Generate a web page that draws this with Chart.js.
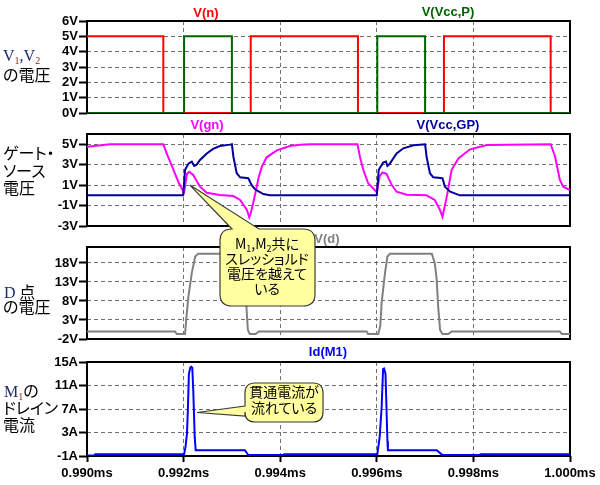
<!DOCTYPE html>
<html>
<head>
<meta charset="utf-8">
<script src="https://cdn.jsdelivr.net/npm/chart.js@4.4.1/dist/chart.umd.min.js"></script>
<style>
body { margin: 0; background: #fff; }
#wrap { position: relative; width: 600px; height: 485px; overflow: hidden; }
#wrap canvas { position: absolute; left: 0; top: 0; }
#notes { position: absolute; left: 0; top: 0; }
.t { position: absolute; font: bold 13px "Liberation Sans", Arial, sans-serif; line-height: 14px; white-space: nowrap; transform: translateX(-50%); }
.j { position: absolute; font-family: "Noto Sans CJK JP", sans-serif; font-size: 16px; line-height: 18px; white-space: nowrap; font-feature-settings: "palt"; color: #000; }
.s { font-family: "Liberation Serif", serif; color: #1c2c6c; }
.s sub { color: #8a2a1a; font-size: 10px; vertical-align: -3px; line-height: 0; }
.n { position: absolute; font-family: "Noto Sans CJK JP", sans-serif; font-size: 14px; line-height: 15px; white-space: nowrap; font-feature-settings: "palt"; transform: translateX(-50%); color: #000; }
.n sub { font-size: 9px; vertical-align: -3px; line-height: 0; }
</style>
</head>
<body>
<div id="wrap">
  <canvas id="p1" width="600" height="485"></canvas>
  <canvas id="p2" width="600" height="485"></canvas>
  <canvas id="p3" width="600" height="485"></canvas>
  <canvas id="p4" width="600" height="485"></canvas>
  <svg id="notes" width="600" height="485"></svg>

  <div class="t" style="left:206px;top:6px;color:#ff0000">V(n)</div>
  <div class="t" style="left:448px;top:5px;color:#006400">V(Vcc,P)</div>
  <div class="t" style="left:207px;top:118px;color:#ff00ff">V(gn)</div>
  <div class="t" style="left:448px;top:118px;color:#00009c">V(Vcc,GP)</div>
  <div class="t" style="left:327px;top:232px;color:#808080">V(d)</div>
  <div class="t" style="left:328px;top:345px;color:#0000ff">Id(M1)</div>

  <div class="j" style="left:3px;top:45px"><span class="s">V<sub>1</sub>,V<sub>2</sub></span></div>
  <div class="j" style="left:3px;top:65px">の電圧</div>
  <div class="j" style="left:3px;top:143px">ゲート・</div>
  <div class="j" style="left:3px;top:161px">ソース</div>
  <div class="j" style="left:3px;top:178px">電圧</div>
  <div class="j" style="left:4px;top:282px"><span class="s">D</span> 点</div>
  <div class="j" style="left:3px;top:297px">の電圧</div>
  <div class="j" style="left:4px;top:381px"><span class="s">M<sub>1</sub></span>の</div>
  <div class="j" style="left:3px;top:398px">ドレイン</div>
  <div class="j" style="left:3px;top:415px">電流</div>

  <div class="n" style="left:267px;top:236px">M<sub>1</sub>,M<sub>2</sub>共に</div>
  <div class="n" style="left:267px;top:251px">スレッショルド</div>
  <div class="n" style="left:267px;top:266px">電圧を越えて</div>
  <div class="n" style="left:267px;top:281px">いる</div>
  <div class="n" style="left:284px;top:384px">貫通電流が</div>
  <div class="n" style="left:284px;top:400px">流れている</div>
</div>

<script>
// time axis (ms)
const xTicks = [0.990, 0.992, 0.994, 0.996, 0.998, 1.000];

// panel 1: V(n), V(Vcc,P)
const nTime = [0.99000, 0.99158, 0.99158, 0.99339, 0.99339, 0.99561, 0.99561, 0.99739, 0.99739, 0.99960, 0.99960, 1.00000];
const nVolt = [5, 5, 0, 0, 5, 5, 0, 0, 5, 5, 0, 0];
const pTime = [0.99000, 0.99201, 0.99201, 0.99300, 0.99300, 0.99601, 0.99601, 0.99700, 0.99700, 1.00000];
const pVolt = [0, 0, 5, 5, 0, 0, 5, 5, 0, 0];
const y1Ticks = [0, 1, 2, 3, 4, 5, 6];

// panel 2: V(gn), V(Vcc,GP)
const gnTime = [0.99000, 0.99048, 0.99158, 0.99165, 0.99179, 0.99189, 0.99198, 0.99201, 0.99207, 0.99212,
  0.99220, 0.99234, 0.99248, 0.99275, 0.99303, 0.99317, 0.99331, 0.99336, 0.99339, 0.99344,
  0.99350, 0.99355, 0.99362, 0.99372, 0.99393, 0.99420, 0.99441, 0.99462, 0.99560, 0.99565,
  0.99572, 0.99582, 0.99596, 0.99600, 0.99606, 0.99612, 0.99620, 0.99631, 0.99641, 0.99662,
  0.99703, 0.99720, 0.99731, 0.99736, 0.99740, 0.99745, 0.99755, 0.99769, 0.99793, 0.99828,
  0.99960, 0.99969, 0.99979, 0.99986, 1.00000];
const gnVolt = [4.76, 5.0, 5.0, 4.1, 2.5, 1.33, 0.5, 0.3, 2.1, 2.3,
  2.0, 0.85, 0.25, 0.03, -0.07, -0.45, -1.44, -2.15, -1.76, -0.78,
  0.52, 1.67, 2.8, 3.72, 4.4, 4.83, 4.95, 5.0, 5.0, 3.8,
  2.5, 1.2, 0.5, 0.3, 1.9, 2.25, 2.1, 1.0, 0.35, 0.06,
  0.0, -0.45, -1.44, -2.1, -1.2, -0.1, 2.5, 3.6, 4.5, 4.93,
  5.0, 3.8, 1.5, 0.85, 0.5];
const gpTime = [0.99000, 0.99199, 0.99203, 0.99210, 0.99217, 0.99222, 0.99227, 0.99234, 0.99248, 0.99261,
  0.99275, 0.99296, 0.99300, 0.99303, 0.99310, 0.99317, 0.99334, 0.99341, 0.99348, 0.99365,
  0.99379, 0.99600, 0.99604, 0.99613, 0.99619, 0.99622, 0.99627, 0.99641, 0.99655, 0.99676,
  0.99700, 0.99703, 0.99710, 0.99717, 0.99736, 0.99741, 0.99752, 0.99772, 1.00000];
const gpVolt = [0, 0, 2.5, 3.1, 3.3, 2.87, 3.0, 3.46, 4.1, 4.54,
  4.83, 4.96, 5.0, 3.8, 2.16, 1.76, 1.67, 1.0, 0.59, 0.13,
  0, 0, 2.5, 3.2, 3.3, 2.87, 3.1, 4.1, 4.6, 4.9,
  5.0, 3.8, 2.16, 1.76, 1.67, 0.85, 0.35, 0, 0];
const y2Ticks = [-3, -1, 1, 3, 5];

// panel 3: V(d)
const dTime = [0.99000, 0.99182, 0.99186, 0.99203, 0.99206, 0.99210, 0.99217, 0.99224, 0.99230, 0.99315,
  0.99321, 0.99325, 0.99330, 0.99333, 0.99337, 0.99349, 0.99356, 0.99579, 0.99582, 0.99603,
  0.99607, 0.99610, 0.99617, 0.99622, 0.99627, 0.99714, 0.99720, 0.99724, 0.99727, 0.99731,
  0.99736, 0.99748, 0.99755, 0.99979, 0.99983, 1.00000];
const dVolt = [0, 0, -0.7, -0.7, 3.95, 9.2, 15.4, 19.7, 20.4, 20.4,
  18, 13.6, 6.6, 0.4, -0.7, -0.7, 0, 0, -0.7, -0.7,
  1.3, 7.5, 15.4, 19.7, 20.4, 20.4, 18, 13.6, 6.6, 0.4,
  -0.7, -0.7, 0, 0, -0.7, -0.7];
const y3Ticks = [-2, 3, 8, 13, 18];

// panel 4: Id(M1)
const idTime = [0.99000, 0.99016, 0.99017, 0.99201, 0.99204, 0.99207, 0.99209, 0.99211, 0.99214, 0.99216,
  0.99218, 0.99220, 0.99223, 0.99225, 0.99327, 0.99334, 0.99406, 0.99408, 0.99601, 0.99606,
  0.99610, 0.99613, 0.99615, 0.99618, 0.99620, 0.99622, 0.99623, 0.99724, 0.99736, 0.99814,
  0.99815, 1.00000];
const idAmp = [-0.9, -0.9, -0.7, -0.7, 0.56, 2.83, 7.3, 13.0, 14.1, 14.2,
  14.0, 10.2, 2.25, 0, 0, -0.85, -0.85, -0.7, -0.7, 2.25,
  7.3, 13.8, 13.9, 13.0, 7.3, 1.5, 0, 0, -0.85, -0.85,
  -0.7, -0.7];
const y4Ticks = [-1, 3, 7, 11, 15];

// where the two callouts point (time, value)
const note1At = [0.99213, 1.0];
const note2At = [0.99228, 6.4];

const tickFont = { family: '"Liberation Sans", Arial, sans-serif', size: 13, weight: 'bold' };
const gridColor = '#707070';

const pts = (ts, vs) => ts.map((t, i) => ({ x: t, y: vs[i] }));

const framePlugin = {
  id: 'frame',
  beforeDatasetsDraw(chart) {
    const { ctx, chartArea: a } = chart;
    ctx.save();
    ctx.strokeStyle = '#000';
    ctx.lineWidth = 2;
    ctx.strokeRect(a.left, a.top, a.right - a.left, a.bottom - a.top);
    ctx.restore();
  }
};

function panel(id, top, bottom, yMin, yMax, yTicks, unit, sets, showX) {
  const xH = showX ? 29 : 0;
  return new Chart(document.getElementById(id), {
    type: 'line',
    data: { datasets: sets },
    options: {
      responsive: false,
      animation: false,
      events: [],
      layout: { padding: { left: 0, right: 30, top: top, bottom: 485 - bottom - xH } },
      plugins: { legend: { display: false }, tooltip: { enabled: false } },
      elements: { point: { radius: 0 }, line: { borderWidth: 2, tension: 0 } },
      scales: {
        x: {
          type: 'linear', min: 0.990, max: 1.000,
          afterBuildTicks: s => { s.ticks = xTicks.map(v => ({ value: v })); },
          afterFit: s => { s.height = xH; },
          grid: { color: gridColor, drawTicks: showX, tickLength: 6,
                  tickColor: '#000', tickWidth: 2, tickBorderDash: [] },
          border: { display: false, dash: [4, 3] },
          ticks: { display: showX, color: '#000', font: tickFont, padding: 4,
                   maxRotation: 0, autoSkip: false, callback: v => v.toFixed(3) + 'ms' }
        },
        y: {
          min: yMin, max: yMax,
          afterBuildTicks: s => { s.ticks = yTicks.map(v => ({ value: v })); },
          afterFit: s => { s.width = 87; },
          grid: { color: gridColor, tickLength: 8, tickColor: '#000', tickWidth: 2, tickBorderDash: [] },
          border: { display: false, dash: [4, 3] },
          ticks: { color: '#000', font: tickFont, padding: 1, autoSkip: false, callback: v => v + unit }
        }
      }
    },
    plugins: [framePlugin]
  });
}

const c1 = panel('p1', 21, 113, 0, 6, y1Ticks, 'V', [
  { data: pts(nTime, nVolt), borderColor: '#ff0000', order: 1 },
  { data: pts(pTime, pVolt), borderColor: '#006400', order: 0 }
], false);

const c2 = panel('p2', 134, 226, -3, 6, y2Ticks, 'V', [
  { data: pts(gnTime, gnVolt), borderColor: '#ff00ff', order: 1 },
  { data: pts(gpTime, gpVolt), borderColor: '#00009c', order: 0 }
], false);

const c3 = panel('p3', 247, 339, -2, 22.2, y3Ticks, 'V', [
  { data: pts(dTime, dVolt), borderColor: '#808080' }
], false);

const c4 = panel('p4', 362, 456, -1, 15, y4Ticks, 'A', [
  { data: pts(idTime, idAmp), borderColor: '#0000ff' }
], true);

// callout balloons, tips anchored through the chart scales
const svg = document.getElementById('notes');
function balloon(d) {
  const p = document.createElementNS('http://www.w3.org/2000/svg', 'path');
  p.setAttribute('d', d);
  p.setAttribute('fill', '#ffffa0');
  p.setAttribute('stroke', '#3a3a3a');
  p.setAttribute('stroke-width', '1.2');
  svg.appendChild(p);
}
const t1x = c2.scales.x.getPixelForValue(note1At[0]);
const t1y = c2.scales.y.getPixelForValue(note1At[1]);
balloon(`M232 229 L${t1x} ${t1y} L259 229 L303 229 Q315 229 315 241 L315 294 Q315 306 303 306
  L232 306 Q220 306 220 294 L220 241 Q220 229 232 229 Z`);

const t2x = c4.scales.x.getPixelForValue(note2At[0]);
const t2y = c4.scales.y.getPixelForValue(note2At[1]);
balloon(`M255 383 L313 383 Q323 383 323 393 L323 412 Q323 422 313 422 L255 422 Q245 422 245 412
  L245 416 L${t2x} ${t2y} L245 406 L245 393 Q245 383 255 383 Z`);
</script>
</body>
</html>
